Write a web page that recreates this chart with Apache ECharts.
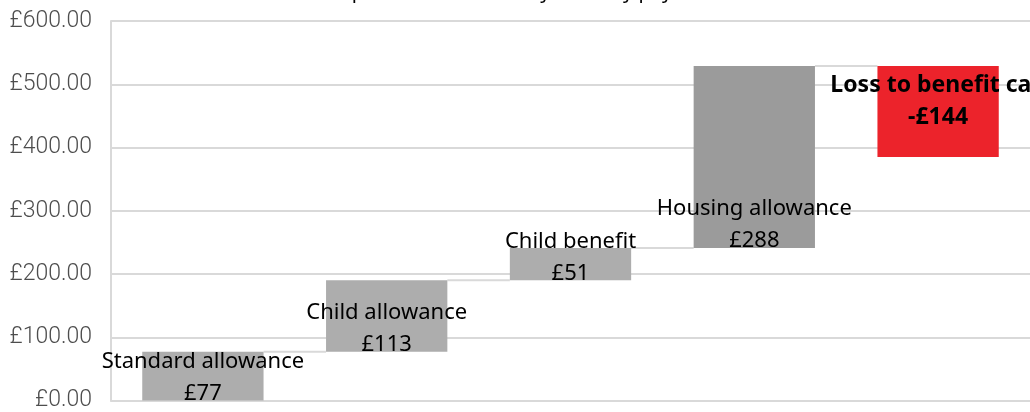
<!DOCTYPE html>
<html>
<head>
<meta charset="utf-8">
<script src="https://cdn.jsdelivr.net/npm/echarts@6/dist/echarts.min.js"></script>
<style>
  html, body { margin: 0; padding: 0; background: #fff; }
  #chart { width: 1030px; height: 412px; }
</style>
</head>
<body>
<div id="chart"></div>
<script>
// waterfall data
const categories = ['Standard allowance', 'Child allowance', 'Child benefit', 'Housing allowance', 'Loss to benefit cap'];
const amounts = [77, 113, 51, 288, -144];
const yTicks = [0, 100, 200, 300, 400, 500, 600];
const barColors = ['#adadad', '#adadad', '#adadad', '#9b9b9b', '#ec232b'];

// running totals -> invisible base + visible height
const bases = [];
const heights = [];
const totals = [];
let run = 0;
amounts.forEach((v) => {
  const next = run + v;
  bases.push(Math.min(run, next));
  heights.push(Math.abs(v));
  totals.push(next);
  run = next;
});

const chart = echarts.init(document.getElementById('chart'));

const option = {
  animation: false,
  title: {
    text: 'Composition of the family\u2019s weekly payment',
    left: 'center',
    top: -23,
    textStyle: { fontFamily: 'Noto Sans', fontSize: 20, fontWeight: 'normal', color: '#000' },
  },
  grid: { left: 111, right: -1, top: 21, bottom: 7, containLabel: false },
  xAxis: {
    type: 'category',
    data: categories,
    axisLine: { show: true, lineStyle: { color: '#d9d9d9', width: 2 } },
    axisTick: { show: false },
    axisLabel: { show: false },
  },
  yAxis: {
    type: 'value',
    min: yTicks[0],
    max: yTicks[yTicks.length - 1],
    interval: 100,
    axisLine: { show: true, lineStyle: { color: '#d9d9d9', width: 2 } },
    axisTick: { show: false },
    splitLine: { lineStyle: { color: '#d9d9d9', width: 2 } },
    axisLabel: {
      margin: 19,
      fontFamily: 'Roboto',
      fontSize: 23,
      fontWeight: 300,
      color: '#4d4d4d',
      formatter: (v) => `£${v.toFixed(2)}`,
    },
  },
  series: [
    {
      name: 'base',
      type: 'bar',
      stack: 'wf',
      barCategoryGap: '34%',
      itemStyle: { color: 'transparent' },
      data: bases,
      silent: true,
    },
    {
      name: 'amount',
      type: 'bar',
      stack: 'wf',
      barCategoryGap: '34%',
      data: heights.map((h, i) => {
        const neg = amounts[i] < 0;
        return {
          value: h,
          itemStyle: { color: barColors[i] },
          label: {
            show: true,
            position: neg ? 'insideTop' : 'insideBottom',
            distance: neg ? 4 : -9,
            fontFamily: 'Noto Sans',
            fontSize: neg ? 23 : 22,
            lineHeight: 32,
            color: '#000',
            fontWeight: neg ? 'bold' : 'normal',
            formatter: () => `${categories[i]}\n${neg ? '-' : ''}£${Math.abs(amounts[i])}`,
          },
        };
      }),
    },
    {
      name: 'connector',
      type: 'custom',
      silent: true,
      data: totals.slice(0, -1).map((t, i) => [i, t]),
      renderItem(params, api) {
        const p = api.coord([api.value(0), api.value(1)]);
        const step = api.size([1, 0])[0];
        const half = step * 0.66 / 2;
        return {
          type: 'line',
          shape: { x1: p[0] + half, y1: p[1], x2: p[0] + step - half, y2: p[1] },
          style: { stroke: '#d9d9d9', lineWidth: 2 },
        };
      },
      z: 1,
    },
  ],
};

chart.setOption(option);
</script>
</body>
</html>
